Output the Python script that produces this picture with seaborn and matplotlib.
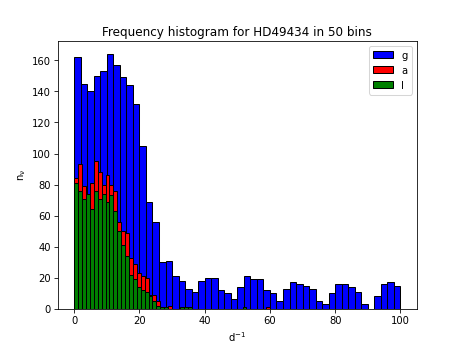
import numpy as np
import pandas as pd
import matplotlib
matplotlib.use('Agg')
import matplotlib.pyplot as plt
import seaborn as sns

plt.rcParams['mathtext.default'] = 'regular'

# Counts, one value per bin
g_counts = [162, 145, 140, 150, 153, 164, 157, 149, 144, 132,
            105, 69, 56, 30, 31, 21, 18, 13, 11, 18,
            20, 20, 12, 10, 6, 14, 21, 19, 19, 12,
            10, 5, 13, 17, 16, 15, 13, 5, 3, 10,
            16, 16, 14, 11, 3, 0, 8, 16, 17, 15]
a_counts = [84, 93, 79, 74, 81, 95, 88, 80, 86, 80,
            76, 56, 50, 49, 33, 29, 23, 21, 20, 9,
            9, 5, 1, 0, 2, 0, 0, 0, 0, 0,
            0, 0, 0, 0, 0, 0, 0, 0, 0, 0,
            0, 0, 0, 0, 0, 0, 0, 0, 0, 1]
l_counts = [81, 76, 71, 74, 64, 76, 71, 74, 69, 73,
            63, 50, 41, 34, 22, 19, 14, 12, 11, 8,
            5, 2, 1, 1, 0, 0, 0, 1, 1, 1,
            0, 0, 0, 0, 0, 0, 0, 0, 0, 0,
            0, 0, 0, 1, 0, 0, 0, 0, 0, 0]

g_range = (0, 100)
al_range = (0, 60)
n_bins = 50

fig, ax = plt.subplots(figsize=(6.4, 4.8), dpi=72.35)

series = [('g', g_counts, g_range, 'blue'),
          ('a', a_counts, al_range, 'red'),
          ('l', l_counts, al_range, 'green')]
for name, counts, rng, col in series:
    edges = np.linspace(rng[0], rng[1], n_bins + 1)
    df = pd.DataFrame({'freq': (edges[:-1] + edges[1:]) / 2, 'n': counts})
    sns.histplot(data=df, x='freq', weights='n', bins=n_bins, binrange=rng,
                 color=col, edgecolor='black', linewidth=1, alpha=1,
                 label=name, ax=ax)

ax.set_title('Frequency histogram for HD49434 in 50 bins')
ax.set_xlabel(r'd$^{-1}$')
ax.set_ylabel(r'n$_\nu$')
ax.legend(loc='upper right')

plt.savefig('out.png', dpi=72.35)
